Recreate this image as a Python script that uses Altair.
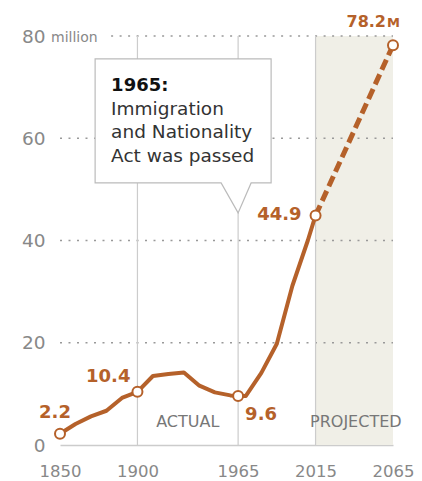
import altair as alt
import pandas as pd

# ---- data ----
years = [1850, 1860, 1870, 1880, 1890, 1900, 1910, 1920, 1930, 1940, 1950,
         1960, 1965, 1970, 1980, 1990, 2000, 2010, 2015]
values = [2.2, 4.1, 5.6, 6.7, 9.2, 10.4, 13.5, 13.9, 14.2, 11.6, 10.3,
          9.7, 9.6, 9.6, 14.1, 19.8, 31.1, 40.0, 44.9]
proj_years = [2015, 2065]
proj_values = [44.9, 78.2]
hl_years = [1850, 1900, 1965, 2015, 2065]
hl_values = [2.2, 10.4, 9.6, 44.9, 78.2]
hl_labels = ["2.2", "10.4", "9.6", "44.9", "78.2"]
x_ticks = [1850, 1900, 1965, 2015, 2065]
y_ticks = [0, 20, 40, 60, 80]
grid_values = [20, 40, 60]
event_years = [1900, 1965, 2015]

ORANGE = "#B5612A"
GRAY = "#888888"
FONT = "DejaVu Sans"

actual = pd.DataFrame({"year": years, "value": values})
proj = pd.DataFrame({"year": proj_years, "value": proj_values})
hl = pd.DataFrame({"year": hl_years, "value": hl_values, "label": hl_labels})
grid = pd.DataFrame({"value": grid_values})
events = pd.DataFrame({"year": event_years})

xs = alt.Scale(domain=[1850, 2065], nice=False, zero=False)
ys = alt.Scale(domain=[0, 80], nice=False, zero=False)

AX = alt.Axis(values=x_ticks, format="d", labelFontSize=16.5, labelColor=GRAY,
              labelFont=FONT, labelPadding=18, ticks=False, grid=False,
              labelFlush=False, labelOverlap=False,
              domainColor="#cccccc", domainWidth=1.5, title=None)
AY = alt.Axis(values=y_ticks, labelFontSize=18.5, labelColor=GRAY, labelFont=FONT,
              labelPadding=15, ticks=False, domain=False, grid=False,
              labelFlush=False, labelOverlap=False, title=None)


def XD(v):
    return alt.XDatum(v, scale=xs, axis=AX)


def YD(v):
    return alt.YDatum(v, scale=ys, axis=AY)


def XF(f):
    return alt.X(f, scale=xs, axis=AX)


def YF(f):
    return alt.Y(f, scale=ys, axis=AY)


one = pd.DataFrame({"v": [0]})

# shaded projection band
shade = alt.Chart(pd.DataFrame({"a": [proj_years[0]], "b": [proj_years[1]]})).mark_rect(
    color="#F0EFE7"
).encode(x=XF("a:Q"), x2="b:Q", y=YD(0), y2=alt.Y2Datum(80))

# dotted grid lines
grid_lines = alt.Chart(grid).mark_rule(
    strokeDash=[2, 6.5], color="#999999", strokeWidth=1.5
).encode(x=XD(1850), x2=alt.X2Datum(2065), y=YF("value:Q"))

grid_top = alt.Chart(pd.DataFrame({"v": [80]})).mark_rule(
    strokeDash=[2, 6.5], color="#999999", strokeWidth=1.5
).encode(x=XD(1883), x2=alt.X2Datum(2065), y=YF("v:Q"))

million = alt.Chart(pd.DataFrame({"v": [80]})).mark_text(
    text="million", align="left", baseline="alphabetic", dx=-9, dy=6,
    fontSize=14, color=GRAY, font=FONT
).encode(x=XD(1850), y=YF("v:Q"))

vlines = alt.Chart(events).mark_rule(color="#cccccc", strokeWidth=1.2).encode(
    x=XF("year:Q"), y=YD(0), y2=alt.Y2Datum(80)
)

line_actual = alt.Chart(actual).mark_line(
    color=ORANGE, strokeWidth=4, strokeJoin="round"
).encode(x=XF("year:Q"), y=YF("value:Q"))

line_proj = alt.Chart(proj).mark_line(
    color=ORANGE, strokeWidth=5, strokeDash=[11, 5]
).encode(x=XF("year:Q"), y=YF("value:Q"))

# callout box with pointer (path in pixel units, anchored at the tip)
callout_path = "M-143,-154 L33,-154 L33,-30 L13,-30 L0,0 L-17,-30 L-143,-30 Z"
callout = alt.Chart(one).mark_point(
    shape=callout_path, size=4, filled=True, fill="white", stroke="#bbbbbb",
    strokeWidth=1.2, opacity=1
).encode(x=XD(1965), y=YD(45.4))

callout_title = alt.Chart(one).mark_text(
    text="1965:", align="left", baseline="alphabetic", dx=-127, dy=-122,
    fontSize=18, fontWeight="bold", color="#111111", font=FONT
).encode(x=XD(1965), y=YD(45.4))

callout_body = alt.Chart(one).mark_text(
    text="Immigration\nand Nationality\nAct was passed", lineBreak="\n",
    lineHeight=23.5, align="left", baseline="alphabetic", dx=-127, dy=-98,
    fontSize=18.5, color="#333333", font=FONT
).encode(x=XD(1965), y=YD(45.4))

circles = alt.Chart(hl).mark_point(
    shape="circle", filled=True, fill="white", stroke=ORANGE, strokeWidth=2,
    size=100, opacity=1
).encode(x=XF("year:Q"), y=YF("value:Q"))


def num_label(year, dx, dy, align, size=18):
    return alt.Chart(hl).transform_filter(alt.datum.year == year).mark_text(
        align=align, baseline="alphabetic", dx=dx, dy=dy, fontSize=size,
        fontWeight="bold", color=ORANGE, font=FONT
    ).encode(x=XF("year:Q"), y=YF("value:Q"), text="label:N")


labels = [
    num_label(1850, -5, -16, "center"),
    num_label(1900, -7, -10, "right"),
    num_label(1965, 7, 24, "left"),
    num_label(2015, -14, 5, "right"),
    num_label(2065, -7, -18, "right", 16),
]

m_label = alt.Chart(hl).transform_filter(alt.datum.year == 2065).mark_text(
    text="M", align="left", baseline="alphabetic", dx=-6, dy=-18, fontSize=13,
    fontWeight="bold", color=ORANGE, font=FONT
).encode(x=XF("year:Q"), y=YF("value:Q"))

actual_txt = alt.Chart(one).mark_text(
    text="ACTUAL", align="center", baseline="alphabetic", fontSize=16,
    color="#777777", font=FONT
).encode(x=XD(1932.5), y=YD(3.5))

proj_txt = alt.Chart(one).mark_text(
    text="PROJECTED", align="center", baseline="alphabetic", fontSize=16,
    color="#777777", font=FONT
).encode(x=XD(2041), y=YD(3.5))

chart = alt.layer(
    shade, grid_lines, grid_top, million, vlines, line_actual, line_proj,
    callout, callout_title, callout_body, circles, *labels, m_label,
    actual_txt, proj_txt,
).properties(
    width=333, height=409,
    autosize=alt.AutoSizeParams(type="none"),
    padding={"left": 52, "top": 28, "right": 21, "bottom": 36},
).configure_view(stroke=None)

chart.save("out.html", embed_options={"renderer": "svg", "actions": False})
